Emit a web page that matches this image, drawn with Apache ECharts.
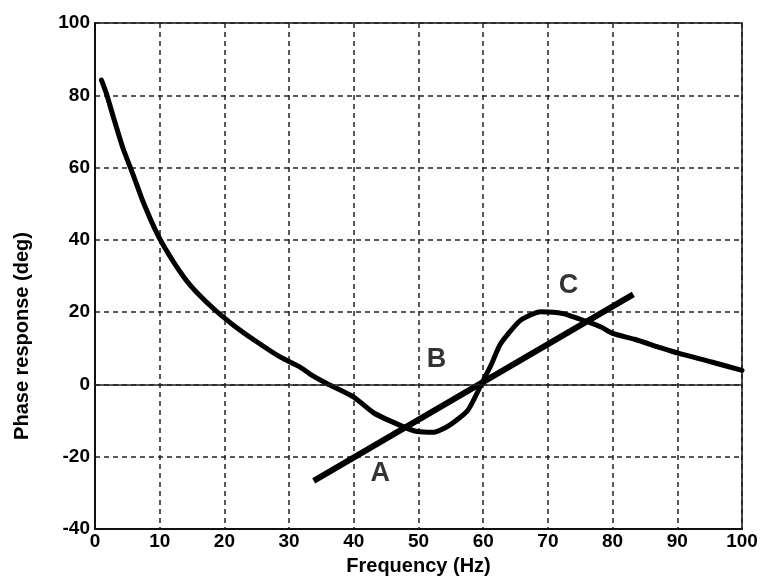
<!DOCTYPE html>
<html>
<head>
<meta charset="utf-8">
<script src="https://cdn.jsdelivr.net/npm/echarts@6/dist/echarts.min.js"></script>
<style>
  html, body { margin: 0; padding: 0; background: #fff; }
  #phase_chart { width: 762px; height: 581px; }
</style>
</head>
<body>
<div id="phase_chart"></div>
<script>
// phase curve
var freqHz = [1, 1.8, 3, 4.3, 5.9, 7.4, 9.8, 12.1, 14.7, 18.3, 21.4, 25, 28.6, 31.7, 33.3, 35.9,
              40, 43.1, 47.8, 49.8, 52.4, 54.7, 57.6, 59.7, 61.2, 62.7, 65.8, 68.9, 72.3, 76.2,
              78.3, 80, 83.4, 87.5, 90.4, 95.3, 100];
var phaseDeg = [84.2, 80.3, 73, 65.5, 58, 50.7, 41, 34, 27.5, 21, 16.4, 11.8, 7.6, 4.8, 2.8, 0.2,
                -3.5, -7.9, -11.8, -13, -13.2, -11.4, -7.2, 0, 5.3, 11.3, 17.8, 20.1, 19.6, 17.3,
                15.8, 14.1, 12.5, 10.1, 8.5, 6.2, 3.9];

// straight line A-C
var lineFreq = [33.8, 83.2];
var linePhase = [-26.7, 24.9];

// letter labels
var labelText = ['A', 'B', 'C'];
var labelFreq = [44.1, 52.8, 73.2];
var labelPhase = [-24.7, 6.9, 27.3];

var chart = echarts.init(document.getElementById('phase_chart'));

function pairs(xs, ys) {
    return xs.map(function (x, i) { return [x, ys[i]]; });
}

var fontName = 'Liberation Sans';
var gridLine = { show: true, lineStyle: { color: '#222', width: 1.5, type: [5, 4] } };

var option = {
    animation: false,
    grid: {
        left: 95, right: 20, top: 23, bottom: 51,
        show: true, borderColor: '#111', borderWidth: 1.5,
        containLabel: false
    },
    xAxis: {
        type: 'value',
        min: 0, max: 100, interval: 10,
        name: 'Frequency (Hz)',
        nameLocation: 'middle',
        nameGap: 27,
        nameTextStyle: { fontFamily: fontName, fontSize: 20, fontWeight: 'bold', color: '#000' },
        axisLine: { onZero: false, lineStyle: { color: '#111', width: 2 } },
        axisTick: { show: false },
        axisLabel: { fontFamily: fontName, fontSize: 19, fontWeight: 'bold', color: '#000', margin: 3 },
        splitLine: gridLine
    },
    yAxis: {
        type: 'value',
        min: -40, max: 100, interval: 20,
        axisLine: { show: true, lineStyle: { color: '#111', width: 2 } },
        axisTick: { show: false },
        axisLabel: { fontFamily: fontName, fontSize: 19, fontWeight: 'bold', color: '#000', margin: 5 },
        splitLine: gridLine
    },
    graphic: [{
        type: 'text',
        x: 22, y: 336,
        rotation: Math.PI / 2,
        style: {
            text: 'Phase response (deg)',
            font: 'bold 20px "Liberation Sans"',
            fill: '#000',
            align: 'center',
            verticalAlign: 'middle'
        }
    }],
    series: [
        {
            type: 'line',
            data: pairs(freqHz, phaseDeg),
            showSymbol: false,
            smooth: 0.2,
            lineStyle: { color: '#000', width: 5, cap: 'round', join: 'round' },
            markLine: {
                silent: true,
                symbol: 'none',
                label: { show: false },
                lineStyle: { color: '#222', width: 1.5, type: 'solid' },
                data: [{ yAxis: 0 }]
            },
            z: 3
        },
        {
            type: 'line',
            data: pairs(lineFreq, linePhase),
            showSymbol: false,
            lineStyle: { color: '#000', width: 6 },
            z: 4
        },
        {
            type: 'scatter',
            symbolSize: 0,
            itemStyle: { color: '#000' },
            data: labelFreq.map(function (x, i) { return { value: [x, labelPhase[i]], name: labelText[i] }; }),
            label: {
                show: true,
                position: 'inside',
                formatter: '{b}',
                fontFamily: fontName,
                fontSize: 27,
                fontWeight: 'bold',
                color: '#000',
                textBorderWidth: 0
            },
            z: 5
        }
    ]
};

chart.setOption(option);
window.addEventListener('resize', chart.resize);
</script>
</body>
</html>
